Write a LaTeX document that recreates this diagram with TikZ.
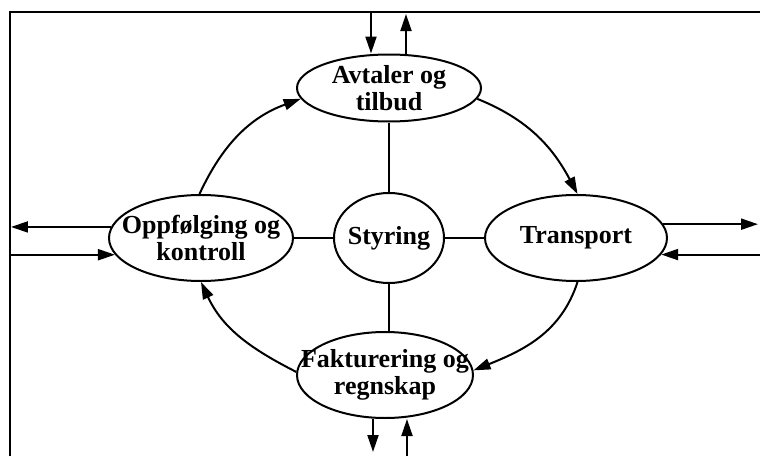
\documentclass[tikz,border=0pt]{standalone}
\usepackage{fontspec}
\setmainfont{Liberation Serif}
\usetikzlibrary{arrows.meta}
\usetikzlibrary{shapes.geometric,positioning}

\begin{document}
\begin{tikzpicture}[>={Triangle[length=8.5pt,width=5.5pt]},line width=1pt,node distance=75pt,
                    font=\fontsize{13}{13.5}\selectfont\bfseries,
                    every label/.style={align=center},
                    main node/.style={ellipse,draw,inner sep=0pt}]

  \useasboundingbox (-194.5pt,-109pt) rectangle (185.5pt,119pt);

  \node[main node,minimum width=55pt,minimum height=45pt,label=center:Styring] (styring) {};
  \node[main node,minimum width=92pt,minimum height=33.5pt,label={center:Avtaler og\\tilbud}] (avtaler) [above of=styring] {};
  \node[main node,minimum width=92pt,minimum height=43pt,label={center:Oppfølging og\\kontroll}] (oppf) [node distance=94pt,left of=styring] {};
  \node[main node,minimum width=91pt,minimum height=43pt,label=center:Transport] (transport) [node distance=93.5pt,right of=styring] {};
  \node[main node,minimum width=88pt,minimum height=43pt,label={center:Fakturering og\\regnskap}] (fakt) [node distance=68.5pt,below of=styring,xshift=-2pt] {};

  % frame
  \coordinate (nw) at (-189.5pt,113pt);
  \coordinate (ne) at (185.5pt,113pt);
  \coordinate (sw) at (-189.5pt,-109pt);
  \draw (sw) -- (nw) -- (ne);

  % in and out
  \coordinate (topin) at (-9pt,113pt);
  \coordinate (topout) at (8.5pt,112pt);
  \coordinate (botout) at (-8pt,-107pt);
  \coordinate (botin) at (9pt,-109pt);
  \coordinate (leftout) at (-189pt,0pt);
  \coordinate (leftin) at (-189.5pt,0pt);
  \coordinate (rightout) at (184.5pt,0pt);
  \coordinate (rightin) at (185.5pt,0pt);

  \draw[->] (topin) -- (topin |- avtaler.north);
  \draw[->] (topout |- avtaler.north) -- (topout);
  \draw[->] (botout |- fakt.south) -- (botout);
  \draw[->] (botin) -- (botin |- fakt.south);
  \draw[->] (oppf.173) -- (oppf.173 -| leftout);
  \draw[->] (leftin |- oppf.191) -- (oppf.191);
  \draw[->] (transport.9) -- (transport.9 -| rightout);
  \draw[->] (rightin |- transport.-11) -- (transport.-11);

  % cycle
  \path[->]
    (avtaler.-7) edge[out=-22,in=118] (transport.88)
    (transport.-88) edge[out=-108,in=22] (fakt.3)
    (fakt.178) edge[out=153,in=-65] (oppf.-90)
    (oppf.92) edge[out=65,in=200] (avtaler.187);

  % spokes
  \path
    (avtaler) edge (styring)
    (styring.south) edge (styring.south |- fakt.north)
    (oppf) edge (styring)
    (styring) edge (transport);
\end{tikzpicture}
\end{document}
